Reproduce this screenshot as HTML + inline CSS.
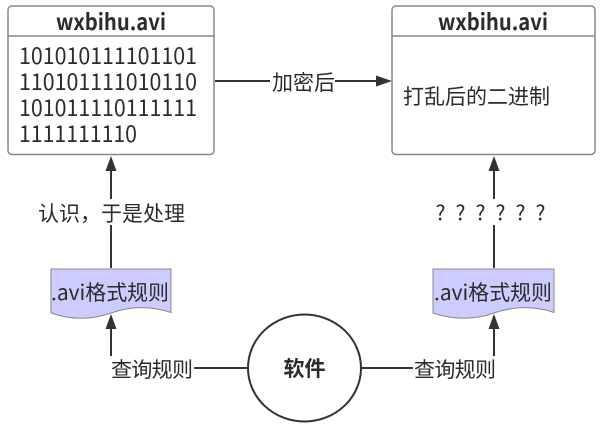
<!DOCTYPE html>
<html lang="zh">
<head>
<meta charset="utf-8">
<style>
html,body{margin:0;padding:0;background:#fff;width:605px;height:430px;overflow:hidden}
svg{display:block}
text{font-family:"Noto Sans CJK SC",sans-serif;font-size:21px;fill:#2b2b2b}
.n{font-size:22.500px}
</style>
</head>
<body>
<svg width="605" height="430" viewBox="0 0 605 430" xmlns="http://www.w3.org/2000/svg">
<rect width="605" height="430" fill="#fff"/>
<!-- boxes -->
<rect x="8" y="6" width="206" height="148.500" rx="4" fill="#fff" stroke="#888" stroke-width="1.500"/>
<line x1="8" y1="36" x2="214" y2="36" stroke="#888" stroke-width="1.500"/>
<rect x="392" y="6" width="203" height="148.500" rx="4" fill="#fff" stroke="#888" stroke-width="1.500"/>
<line x1="392" y1="36" x2="595" y2="36" stroke="#888" stroke-width="1.500"/>
<!-- documents -->
<path d="M51 269H171V312.500C151 306 131 306 111 313C91 320 71 320 51 313Z" fill="#ccccff" stroke="#888" stroke-width="1"/>
<path d="M433 269H554V312.500C534 306 514 306 494 313C474 320 454 320 433 313Z" fill="#ccccff" stroke="#888" stroke-width="1"/>
<!-- circle -->
<ellipse cx="304.500" cy="368" rx="56.500" ry="53.500" fill="#fff" stroke="#333" stroke-width="2"/>
<!-- connectors -->
<g stroke="#333" stroke-width="2" fill="none">
<line x1="215" y1="81" x2="270" y2="81"/>
<line x1="335" y1="81" x2="378" y2="81"/>
<line x1="111" y1="170" x2="111" y2="199"/>
<line x1="111" y1="225" x2="111" y2="268"/>
<line x1="111" y1="328" x2="111" y2="356"/>
<line x1="194" y1="368" x2="247" y2="368"/>
<line x1="494" y1="170" x2="494" y2="199"/>
<line x1="494" y1="225" x2="494" y2="268"/>
<line x1="494" y1="328" x2="494" y2="356"/>
<line x1="362" y1="368" x2="413" y2="368"/>
</g>
<g fill="#333">
<path d="M392 81L376 75.500V86.500Z"/>
<path d="M111 156L105.500 171H116.500Z"/>
<path d="M494 156L488.500 171H499.500Z"/>
<path d="M111 314L105.500 329H116.500Z"/>
<path d="M494 314L488.500 329H499.500Z"/>
</g>
<!-- box titles -->
<text class="n" x="56" y="30" font-weight="700" textLength="110" lengthAdjust="spacingAndGlyphs">wxbihu.avi</text>
<text class="n" x="438" y="30" font-weight="700" textLength="110" lengthAdjust="spacingAndGlyphs">wxbihu.avi</text>
<!-- box contents -->
<text class="n" x="19" y="64" textLength="178" lengthAdjust="spacingAndGlyphs">101010111101101</text>
<text class="n" x="19" y="90" textLength="178" lengthAdjust="spacingAndGlyphs">110101111010110</text>
<text class="n" x="19" y="116" textLength="178" lengthAdjust="spacingAndGlyphs">101011110111111</text>
<text class="n" x="19" y="142" textLength="118" lengthAdjust="spacingAndGlyphs">1111111110</text>
<text x="403" y="104">打乱后的二进制</text>
<!-- connector labels -->
<text x="272" y="90">加密后</text>
<text x="38" y="221">认识，于是处理</text>
<text x="435.500 455.500 475.500 495.500 515.500 535.500" y="220">??????</text>
<text x="111" y="377" textLength="82">查询规则</text>
<text x="414" y="377" textLength="82">查询规则</text>
<!-- document labels -->
<text x="51" y="300" textLength="118" lengthAdjust="spacingAndGlyphs">.avi格式规则</text>
<text x="434" y="300" textLength="118" lengthAdjust="spacingAndGlyphs">.avi格式规则</text>
<!-- circle label -->
<text x="304.500" y="376" text-anchor="middle" font-weight="700">软件</text>
</svg>
</body>
</html>
